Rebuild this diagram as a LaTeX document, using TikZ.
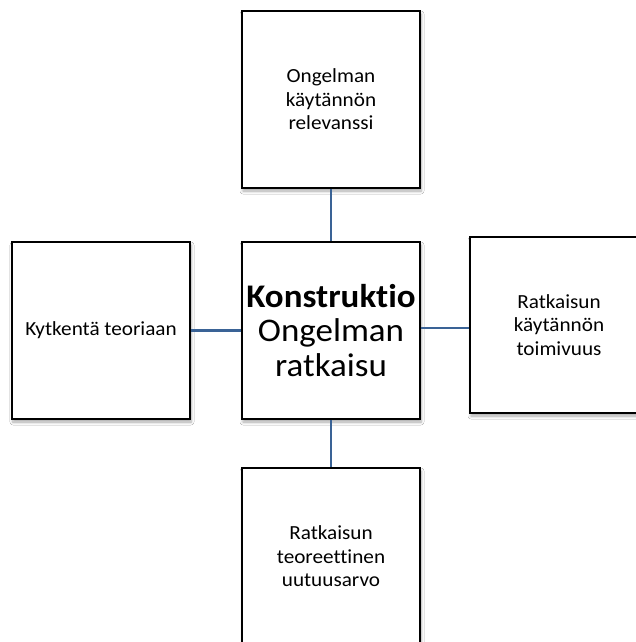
\documentclass[tikz,border=0pt]{standalone}
\usepackage{fontspec}
\setmainfont{Carlito}[Ligatures=NoCommon, FakeStretch=1.06]
\usetikzlibrary{shadows.blur}
\definecolor{linkblue}{RGB}{58,99,150}
\tikzset{
  box/.style={draw=black, line width=1.8pt, fill=white, minimum width=178pt,
    minimum height=177pt, inner sep=0pt, align=center,
    blur shadow={shadow xshift=1pt, shadow yshift=-3pt, shadow blur radius=3pt,
      shadow blur steps=6, shadow opacity=35}},
  small/.style={font=\fontsize{20}{23.5}\selectfont},
  big/.style={font=\fontsize{33}{34.5}\selectfont},
  link/.style={draw=linkblue, line width=2.4pt},
  thinlink/.style={draw=linkblue, line width=1.5pt}
}
\begin{document}
\begin{tikzpicture}[x=1pt, y=-1pt]
  \useasboundingbox (0,0) rectangle (636,642);
  \clip (0,0) rectangle (636,642);
  \fill[white] (0,0) rectangle (636,642);

  \node[box, small] (top)    at (331,99.5)  {Ongelman\\käytännön\\relevanssi};
  \node[box, big]   (center) at (331,330.5) {\textbf{Konstruktio}\\Ongelman\\ratkaisu};
  \node[box, small] (left)   at (101,330.5) {Kytkentä teoriaan};
  \node[box, small, minimum height=176pt] (right) at (559,325) {Ratkaisun\\käytännön\\toimivuus};
  \node[box, small] (bottom) at (331,556.5) {Ratkaisun\\teoreettinen\\uutuusarvo};

  \draw[link] (top.south) -- (center.north);
  \draw[link] (left.east) -- (center.west);
  \draw[link] (center.south) -- (bottom.north);
  \draw[thinlink] ([yshift=2.5pt]center.east) -- ([yshift=2.5pt]center.east -| right.west);
\end{tikzpicture}
\end{document}
